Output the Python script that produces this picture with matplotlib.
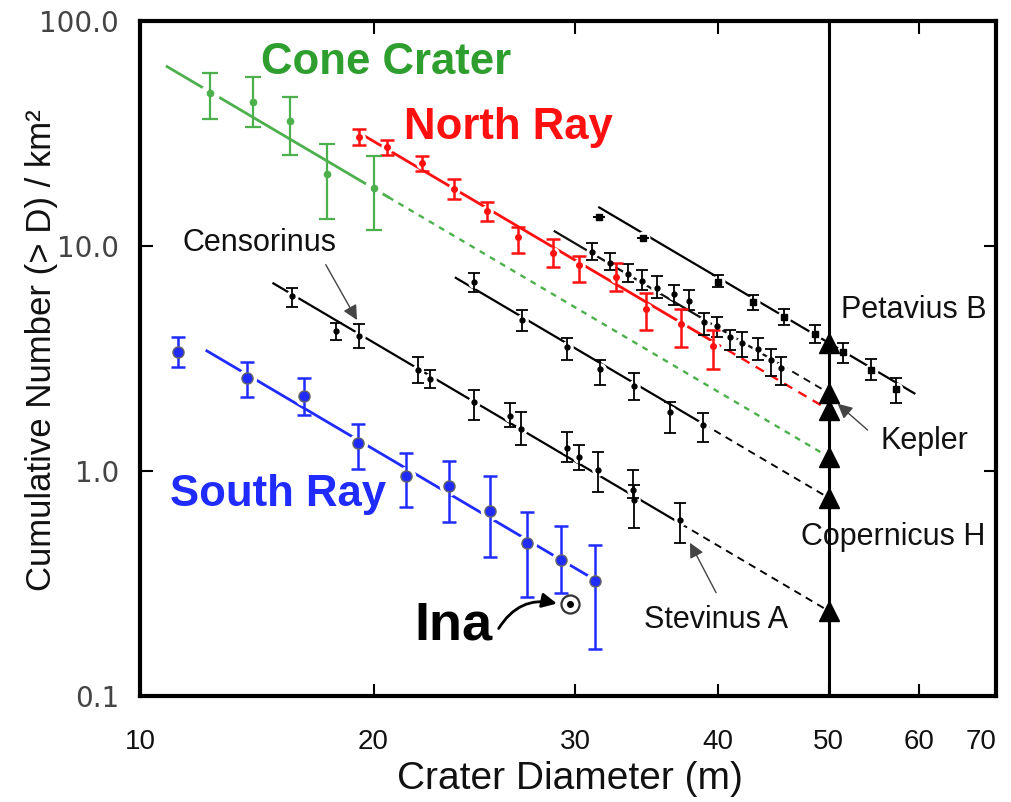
import matplotlib
matplotlib.use("Agg")
import matplotlib.pyplot as plt
import numpy as np
from matplotlib import font_manager

# ---- values (D in m, N per km^2) ----
cone_d = [14.4, 15.7, 16.9, 18.2, 20.0]
cone_n = [47.9, 43.7, 35.9, 20.9, 18.1]
cone_lo = [36.7, 33.8, 25.4, 13.2, 11.8]
cone_hi = [58.7, 56.4, 46.0, 28.4, 25.1]

north_d = [19.44, 20.57, 22.03, 23.50, 25.12, 26.73, 28.70, 30.24, 32.58, 34.61, 37.15, 39.62]
north_n = [30.5, 27.5, 23.4, 17.9, 14.3, 11.0, 9.31, 8.23, 7.28, 5.25, 4.50, 3.59]
north_lo = [28.1, 25.4, 21.5, 16.2, 12.9, 9.3, 8.07, 6.92, 6.31, 4.23, 3.56, 2.84]
north_hi = [33.1, 29.6, 25.1, 19.8, 15.7, 12.1, 10.7, 9.03, 8.40, 6.18, 5.25, 4.23]

south_d = [13.50, 15.51, 17.40, 19.40, 21.33, 23.26, 25.27, 27.23, 29.16, 31.24]
south_n = [3.38, 2.59, 2.15, 1.332, 0.950, 0.858, 0.664, 0.479, 0.402, 0.324]
south_lo = [2.90, 2.13, 1.774, 1.021, 0.692, 0.593, 0.415, 0.275, 0.287, 0.162]
south_hi = [3.94, 3.05, 2.59, 1.618, 1.202, 1.107, 0.950, 0.657, 0.569, 0.469]

petavius_d = [31.48, 34.40, 40.02, 42.94, 45.71, 48.66, 51.49, 54.48, 57.19]
petavius_n = [13.45, 10.85, 6.92, 5.64, 4.84, 4.07, 3.38, 2.81, 2.31]
petavius_lo = [13.45, 10.85, 6.57, 5.19, 4.46, 3.71, 3.02, 2.54, 2.00]
petavius_hi = [13.45, 10.85, 7.43, 6.06, 5.25, 4.46, 3.71, 3.15, 2.59]

kepler_d = [31.04, 32.19, 33.38, 34.33, 35.38, 36.62, 37.74, 38.91, 39.95, 41.00, 42.01, 43.39, 44.53, 45.44]
kepler_n = [9.40, 8.40, 7.51, 6.99, 6.50, 6.12, 5.69, 4.59, 4.41, 3.94, 3.71, 3.49, 3.11, 2.87]
kepler_lo = [8.66, 7.82, 6.92, 6.37, 5.87, 5.47, 5.19, 4.02, 3.94, 3.45, 3.21, 3.11, 2.64, 2.41]
kepler_hi = [10.31, 9.31, 8.32, 7.82, 7.36, 6.71, 6.37, 5.04, 4.84, 4.23, 4.15, 3.90, 3.49, 3.21]

copernicus_d = [24.47, 26.95, 29.51, 31.54, 33.79, 36.32, 38.83]
copernicus_n = [6.92, 4.69, 3.556, 2.84, 2.385, 1.83, 1.60]
copernicus_lo = [6.24, 4.19, 3.11, 2.41, 2.07, 1.476, 1.345]
copernicus_hi = [7.59, 5.19, 3.90, 3.11, 2.73, 2.03, 1.81]

censorinus_d = [16.99, 18.56, 19.44, 21.86, 22.39, 24.47, 26.31, 26.90]
censorinus_n = [5.99, 4.19, 3.98, 2.81, 2.56, 2.03, 1.755, 1.537]
censorinus_lo = [5.36, 3.82, 3.52, 2.46, 2.34, 1.685, 1.57, 1.305]
censorinus_hi = [6.50, 4.55, 4.50, 3.21, 2.81, 2.29, 2.00, 1.83]

stevinus_d = [29.51, 30.24, 31.43, 33.72, 33.79, 37.07]
stevinus_n = [1.265, 1.154, 1.01, 0.823, 0.743, 0.606]
stevinus_lo = [1.096, 1.01, 0.807, 0.759, 0.558, 0.479]
stevinus_hi = [1.49, 1.305, 1.214, 1.01, 0.867, 0.721]

ina_d = [29.68]
ina_n = [0.256]

# power-law fits: N at D = 50 m, start of fit, end of data range
fit_slope = 3.0
fit_ref_d = 50.0
petavius_fit = (3.71, 31.5, 59.4)
kepler_fit = (2.22, 28.8, 45.4)
north_fit = (1.87, 19.4, 39.6)
cone_fit = (1.154, 13.2, 20.6)
copernicus_fit = (0.759, 23.6, 38.8)
censorinus_fit = (0.2385, 16.35, 37.1)
south_fit = (0.080, 14.3, 31.4)

GREEN_TXT = "#2e9e2e"
GREEN = "#4cb04c"
RED = "#ff1010"
BLUE = "#1f2bff"

names = {f.name for f in font_manager.fontManager.ttflist}
SANS = "Liberation Sans" if "Liberation Sans" in names else "DejaVu Sans"


def fit_curve(n50, d0, d1):
    d = np.geomspace(d0, d1, 60)
    return d, n50 * (d / fit_ref_d) ** (-fit_slope)


def draw_fit(ax, fit, color, lw=1.8, ext_style=(0, (4, 3)), extend=True):
    n50, d0, d1 = fit
    d, n = fit_curve(n50, d0, d1)
    ax.plot(d, n, color=color, lw=lw, zorder=2)
    if extend and d1 < fit_ref_d:
        d, n = fit_curve(n50, d1, fit_ref_d)
        ax.plot(d, n, color=color, lw=lw * 0.85, ls=ext_style, zorder=2)
    if extend:
        ax.plot([fit_ref_d], [n50], marker="^", ms=14, color="black", ls="none", zorder=6)


def draw_points(ax, d, n, lo, hi, color, marker="o", ms=4, lw=1.3, cap=4,
                halo=10, mfc=None, mec=None, capcolor=None):
    d = np.asarray(d)
    n = np.asarray(n)
    yerr = [n - np.asarray(lo), np.asarray(hi) - n]
    ax.plot(d, n, "o", color="white", ms=halo, mec="none", zorder=2.5)
    _, caps, _ = ax.errorbar(d, n, yerr=yerr, fmt=marker, color=color, ms=ms,
                             mfc=mfc or color, mec=mec or color, elinewidth=lw,
                             capsize=cap, capthick=lw, zorder=3)
    if capcolor:
        for c in caps:
            c.set_color(capcolor)


fig = plt.figure(figsize=(10.11, 8.02), dpi=100)
ax = fig.add_axes([140 / 1011, 106 / 802, 856 / 1011, 675 / 802])
ax.set_xscale("log")
ax.set_yscale("log")
x_left = 12.5
ax.set_xlim(x_left, 70)
ax.set_ylim(0.1, 100)

# fits
draw_fit(ax, petavius_fit, "black", lw=1.6)
draw_fit(ax, kepler_fit, "#111111", lw=1.6)
draw_fit(ax, north_fit, RED, lw=2.0)
draw_fit(ax, cone_fit, GREEN, lw=2.0, ext_style=(0, (2.5, 2.5)))
draw_fit(ax, copernicus_fit, "black", lw=1.6)
draw_fit(ax, censorinus_fit, "black", lw=1.6)
draw_fit(ax, south_fit, BLUE, lw=2.0, extend=False)

ax.axvline(fit_ref_d, color="black", lw=2.2, zorder=5)

# data points
draw_points(ax, petavius_d, petavius_n, petavius_lo, petavius_hi, "black", marker="s", ms=4, halo=10)
draw_points(ax, kepler_d, kepler_n, kepler_lo, kepler_hi, "black", ms=3.5, halo=9)
draw_points(ax, copernicus_d, copernicus_n, copernicus_lo, copernicus_hi, "black", ms=3.5, halo=9)
draw_points(ax, censorinus_d, censorinus_n, censorinus_lo, censorinus_hi, "black", ms=3.5, halo=9)
draw_points(ax, stevinus_d, stevinus_n, stevinus_lo, stevinus_hi, "black", ms=3.5, halo=9)
draw_points(ax, north_d, north_n, north_lo, north_hi, RED, ms=4, lw=1.8, cap=5, halo=9)
draw_points(ax, cone_d, cone_n, cone_lo, cone_hi, GREEN, ms=4.5, lw=1.6, cap=6, halo=14)
draw_points(ax, south_d, south_n, south_lo, south_hi, BLUE, ms=8, lw=1.8, cap=5,
            halo=14, mfc=BLUE, mec="#666666", capcolor="#222222")

ax.plot(ina_d, ina_n, "o", ms=13, mfc="white", mec="#333333", mew=1.6, zorder=4)
ax.plot(ina_d, ina_n, "o", ms=4, color="black", zorder=4.5)

# series labels
big = dict(transform=ax.transAxes, ha="center", va="center", fontsize=31.5,
           fontweight="bold", family=SANS)
ax.text(0.287, 0.938, "Cone Crater", color=GREEN_TXT, **big)
ax.text(0.430, 0.842, "North Ray", color=RED, **big)
ax.text(0.161, 0.298, "South Ray", color=BLUE, **big)
ax.text(0.366, 0.105, "Ina", transform=ax.transAxes, ha="center", va="center",
        color="black", fontsize=39, fontweight="bold", family=SANS)

small = dict(transform=ax.transAxes, ha="center", va="center", fontsize=22, family=SANS, color="#111111")
ax.text(0.140, 0.671, "Censorinus", **small)
ax.text(0.904, 0.572, "Petavius B", **small)
ax.text(0.916, 0.378, "Kepler", **small)
ax.text(0.880, 0.236, "Copernicus H", **small)
ax.text(0.673, 0.113, "Stevinus A", **small)

arrow = dict(arrowstyle="-|>", color="#444444", lw=1.0, mutation_scale=22,
             shrinkA=0, shrinkB=0)
ax.annotate("", xy=(0.2535, 0.557), xytext=(0.217, 0.639), xycoords="axes fraction",
            arrowprops=arrow, zorder=7)
ax.annotate("", xy=(0.6425, 0.227), xytext=(0.673, 0.153), xycoords="axes fraction",
            arrowprops=arrow, zorder=7)
ax.annotate("", xy=(0.815, 0.433), xytext=(0.850, 0.394), xycoords="axes fraction",
            arrowprops=arrow, zorder=7)
ax.annotate("", xy=(0.487, 0.137), xytext=(0.419, 0.100), xycoords="axes fraction",
            arrowprops=dict(arrowstyle="-|>", color="black", lw=2.0, mutation_scale=22,
                            shrinkA=0, shrinkB=0, connectionstyle="arc3,rad=-0.35"),
            zorder=7)

# axes styling
for s in ax.spines.values():
    s.set_linewidth(3.0)
x_ticks = [x_left, 20, 30, 40, 50, 60, 70]
x_labels = ["10", "20", "30", "40", "50", "60", "70"]
ax.set_xticks(x_ticks)
ax.set_xticklabels(x_labels)
ax.set_yticks([0.1, 1, 10, 100])
ax.set_yticklabels(["0.1", "1.0", "10.0", "100.0"])
ax.minorticks_off()
ax.tick_params(axis="both", which="major", direction="in", top=True, right=True,
               length=9, width=1.5)
ax.tick_params(axis="x", pad=24, labelsize=20, labelcolor="#111111")
ax.tick_params(axis="y", pad=15, labelsize=20, labelcolor="#444444")
for lbl in ax.get_xticklabels():
    lbl.set_family(SANS)
ax.get_xticklabels()[-1].set_ha("right")
for lbl in ax.get_yticklabels():
    lbl.set_family("DejaVu Sans")

ax.set_xlabel("Crater Diameter (m)", fontsize=28, family=SANS, color="#111111")
ax.xaxis.set_label_coords(0.502, -0.096)
ax.set_ylabel("Cumulative Number (> D) / km²", fontsize=25, family=SANS, color="#111111")
ax.yaxis.set_label_coords(-0.096, 0.513)

fig.savefig("out.png", dpi=100)
